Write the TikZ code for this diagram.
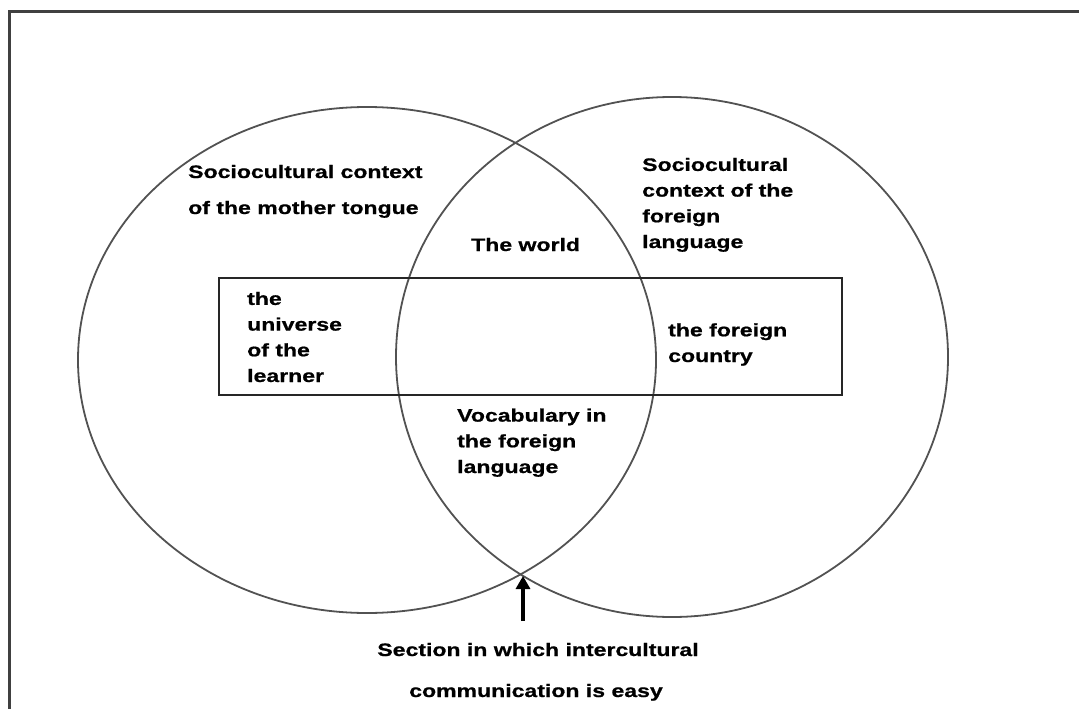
\documentclass[tikz,border=0pt]{standalone}
\usepackage{fontspec}
\setmainfont{Liberation Sans}[FakeStretch=1.28, BoldFeatures={FakeBold=0.8}]
\usetikzlibrary{shapes.geometric,arrows.meta}
\tikzset{
  lbl/.style={font=\fontsize{18pt}{25.7pt}\selectfont\bfseries, align=left, inner sep=0pt, anchor=base west, text=black},
  ctr/.style={font=\fontsize{18pt}{25.7pt}\selectfont\bfseries, align=center, inner sep=0pt, anchor=base, text=black},
  venn/.style={ellipse, draw=black!68, line width=1.8pt, inner sep=0pt},
}
\begin{document}
\begin{tikzpicture}[x=1pt,y=-1pt]
\useasboundingbox (0,0) rectangle (1079,709);
\clip (0,0) rectangle (1079,709);
% outer frame (only left and top edges visible)
\draw[black!75, line width=3pt] (9,720) -- (9,12) -- (1090,12);
% circles
\node[venn, minimum width=578pt, minimum height=506pt] (L) at (367,360) {};
\node[venn, minimum width=552pt, minimum height=520pt] (R) at (672,357) {};
% rectangle
\node[draw=black!85, line width=2pt, minimum width=623pt, minimum height=117pt, inner sep=0pt] (box) at (530.5,336.5) {};
% labels (anchor = baseline of the last line)
\node[lbl] (mt1) at (188,178) {Sociocultural context};
\node[lbl] (mt2) at (188,214) {of the mother tongue};
\node[lbl] (fl) at (642,248) {Sociocultural\\context of the\\foreign\\language};
\node[lbl] (world) at (471,251) {The world};
\node[lbl] (learner) at (247,382) {the\\universe\\of the\\learner};
\node[lbl] (country) at (668,362) {the foreign\\country};
\node[lbl] (vocab) at (457,473) {Vocabulary in\\the foreign\\language};
\node[ctr] (sec1) at (538,656) {Section in which intercultural};
\node[ctr] (sec2) at (536,697) {communication is easy};
% arrow
\coordinate (tail) at (523,621);
\coordinate (tip) at (523,576);
\draw[black, line width=3.2pt, -{Triangle[length=13pt,width=14pt]}] (tail) -- (tip);
\end{tikzpicture}
\end{document}
